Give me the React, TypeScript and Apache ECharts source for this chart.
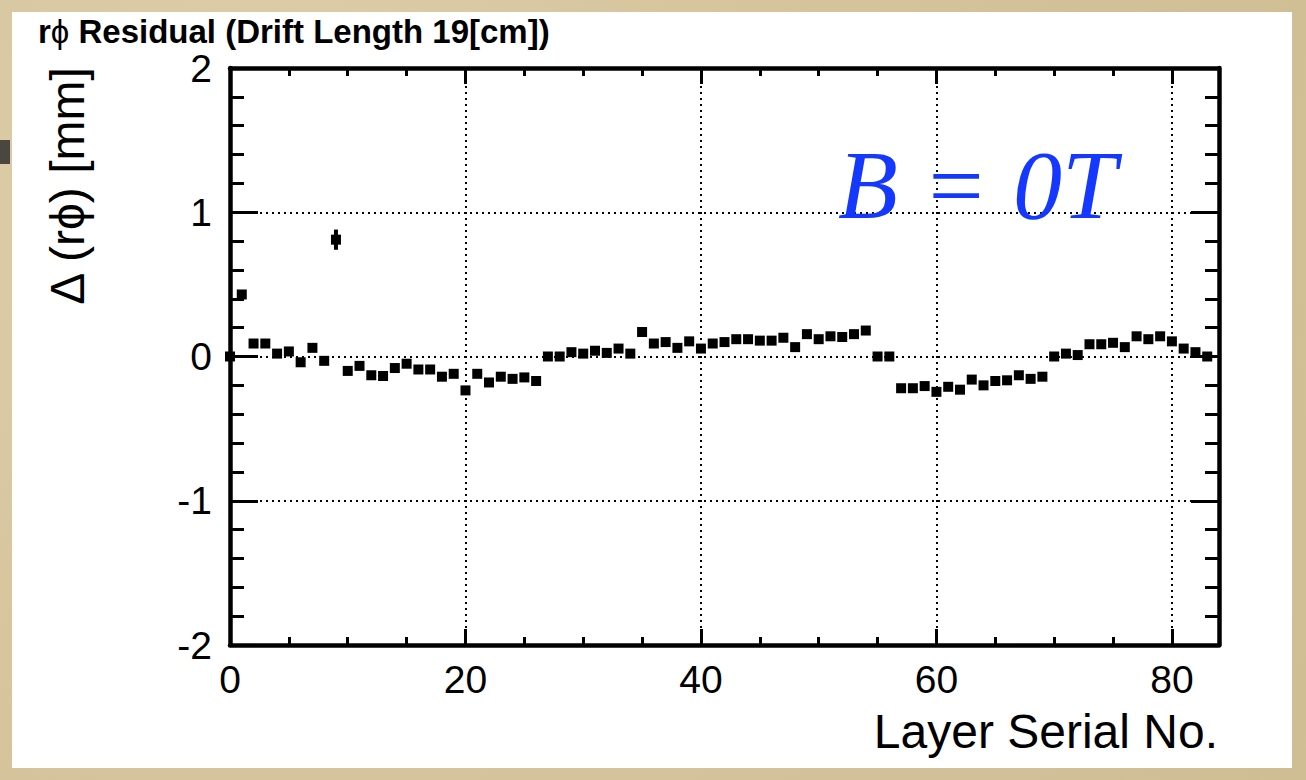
import React, { useEffect, useRef } from "react";
import * as echarts from "echarts";

// ---- data ----
const layers: number[] = [
  0, 1, 2, 3, 4, 5, 6, 7, 8, 9, 10, 11, 12, 13, 14, 15, 16, 17, 18, 19, 20,
  21, 22, 23, 24, 25, 26, 27, 28, 29, 30, 31, 32, 33, 34, 35, 36, 37, 38, 39, 40,
  41, 42, 43, 44, 45, 46, 47, 48, 49, 50, 51, 52, 53, 54, 55, 56, 57, 58, 59, 60,
  61, 62, 63, 64, 65, 66, 67, 68, 69, 70, 71, 72, 73, 74, 75, 76, 77, 78, 79, 80,
  81, 82, 83,
];
const residuals: number[] = [
  0.0, 0.43, 0.09, 0.09, 0.02, 0.035, -0.04, 0.06, -0.03, 0.81, -0.1,
  -0.065, -0.13, -0.135, -0.08, -0.05, -0.09, -0.09, -0.14, -0.12, -0.235,
  -0.12, -0.18, -0.14, -0.155, -0.145, -0.17, 0.0, 0.0, 0.03, 0.02,
  0.04, 0.025, 0.055, 0.02, 0.17, 0.09, 0.1, 0.06, 0.105, 0.055,
  0.09, 0.1, 0.12, 0.12, 0.11, 0.11, 0.13, 0.065, 0.155, 0.12,
  0.14, 0.135, 0.155, 0.18, 0.0, 0.0, -0.22, -0.22, -0.205, -0.245,
  -0.21, -0.23, -0.16, -0.2, -0.17, -0.165, -0.13, -0.155, -0.14, 0.0,
  0.02, 0.01, 0.085, 0.085, 0.095, 0.065, 0.14, 0.12, 0.14, 0.105,
  0.055, 0.03, 0.0,
];
// visible error bars: layer, value, half-width
const errLayers: number[] = [9];
const errValues: number[] = [0.81];
const errSizes: number[] = [0.07];

const xMajorTicks: number[] = [0, 20, 40, 60, 80];
const yMajorTicks: number[] = [-2, -1, 0, 1, 2];

const titleParts: string[] = ["r", "ϕ", " Residual (Drift Length 19[cm])"];
const yTitle = "Δ (rϕ) [mm]";
const xTitle = "Layer Serial No.";
const fieldText = "B = 0T";

const FONT = '"Liberation Sans", Arial, Helvetica, "DejaVu Sans", sans-serif';
const SERIF = '"Liberation Serif", "Times New Roman", Times, serif';

export default function App() {
  const ref = useRef<HTMLDivElement>(null);

  useEffect(() => {
    document.body.style.margin = "0";
    const chart = echarts.init(ref.current!, undefined, {
      renderer: "svg",
      width: 1306,
      height: 780,
    });

    const gridBox = { left: 230, top: 68, width: 989, height: 577 };
    const frameLine = { show: true, onZero: false, lineStyle: { color: "#000", width: 4.5 } };
    const noLine = { show: false, onZero: false };
    const dotted = { show: true, lineStyle: { color: "#000", width: 2, type: [2, 4] as any } };

    const xBase = { type: "value" as const, min: 0, max: 84 };
    const yBase = { type: "value" as const, min: -2, max: 2 };

    const option: any = {
      animation: false,
      backgroundColor: "transparent",
      textStyle: { fontFamily: FONT },
      grid: [
        { ...gridBox, containLabel: false },
        { ...gridBox, containLabel: false },
      ],
      xAxis: [
        {
          ...xBase,
          gridIndex: 0,
          position: "bottom",
          interval: 20,
          axisLine: frameLine,
          axisTick: { show: true, inside: true, length: 16, lineStyle: { color: "#000", width: 3 } },
          axisLabel: {
            show: true,
            fontSize: 39,
            fontFamily: FONT,
            color: "#000",
            margin: 15,
            formatter: (v: number) => (xMajorTicks.includes(v) ? String(v) : ""),
          },
          splitLine: dotted,
        },
        {
          ...xBase,
          gridIndex: 0,
          position: "top",
          interval: 20,
          axisLine: frameLine,
          axisTick: { show: true, inside: true, length: 16, lineStyle: { color: "#000", width: 3 } },
          axisLabel: { show: false },
          splitLine: { show: false },
        },
        {
          ...xBase,
          gridIndex: 1,
          position: "bottom",
          interval: 5,
          axisLine: noLine,
          axisTick: { show: true, inside: true, length: 8, lineStyle: { color: "#000", width: 3 } },
          axisLabel: { show: false },
          splitLine: { show: false },
        },
        {
          ...xBase,
          gridIndex: 1,
          position: "top",
          interval: 5,
          axisLine: noLine,
          axisTick: { show: true, inside: true, length: 8, lineStyle: { color: "#000", width: 3 } },
          axisLabel: { show: false },
          splitLine: { show: false },
        },
      ],
      yAxis: [
        {
          ...yBase,
          gridIndex: 0,
          position: "left",
          interval: 1,
          axisLine: frameLine,
          axisTick: { show: true, inside: true, length: 28, lineStyle: { color: "#000", width: 3 } },
          axisLabel: {
            show: true,
            fontSize: 39,
            fontFamily: FONT,
            color: "#000",
            margin: 18,
            formatter: (v: number) => (yMajorTicks.includes(v) ? String(v) : ""),
          },
          splitLine: dotted,
        },
        {
          ...yBase,
          gridIndex: 0,
          position: "right",
          interval: 1,
          axisLine: frameLine,
          axisTick: { show: true, inside: true, length: 28, lineStyle: { color: "#000", width: 3 } },
          axisLabel: { show: false },
          splitLine: { show: false },
        },
        {
          ...yBase,
          gridIndex: 1,
          position: "left",
          interval: 0.2,
          axisLine: noLine,
          axisTick: { show: true, inside: true, length: 14, lineStyle: { color: "#000", width: 3 } },
          axisLabel: { show: false },
          splitLine: { show: false },
        },
        {
          ...yBase,
          gridIndex: 1,
          position: "right",
          interval: 0.2,
          axisLine: noLine,
          axisTick: { show: true, inside: true, length: 14, lineStyle: { color: "#000", width: 3 } },
          axisLabel: { show: false },
          splitLine: { show: false },
        },
      ],
      series: [
        {
          type: "custom",
          name: "error",
          xAxisIndex: 0,
          yAxisIndex: 0,
          z: 3,
          data: errLayers.map((l, i) => [l, errValues[i] - errSizes[i], errValues[i] + errSizes[i]]),
          renderItem: (params: any, api: any) => {
            const p1 = api.coord([api.value(0), api.value(1)]);
            const p2 = api.coord([api.value(0), api.value(2)]);
            return {
              type: "line",
              shape: { x1: p1[0], y1: p1[1], x2: p2[0], y2: p2[1] },
              style: { stroke: "#000", lineWidth: 4 },
            };
          },
        },
        {
          type: "scatter",
          name: "residual",
          xAxisIndex: 0,
          yAxisIndex: 0,
          symbol: "rect",
          symbolSize: 10,
          clip: false,
          z: 4,
          itemStyle: { color: "#000", opacity: 1 },
          data: layers.map((l, i) => [l, residuals[i]]),
        },
      ],
      graphic: [
        {
          type: "text",
          x: 38,
          y: 31,
          style: {
            text: `{b|${titleParts[0]}}{p|${titleParts[1]}}{b|${titleParts[2]}}`,
            fill: "#000",
            align: "left",
            verticalAlign: "middle",
            rich: {
              b: { fontFamily: FONT, fontWeight: "bold", fontSize: 33, fill: "#000" },
              p: { fontFamily: FONT, fontWeight: "normal", fontSize: 33, fill: "#000" },
            },
          },
        },
        {
          type: "text",
          x: 67,
          y: 186,
          rotation: Math.PI / 2,
          style: {
            text: yTitle,
            fontFamily: FONT,
            fontSize: 48,
            fill: "#000",
            align: "center",
            verticalAlign: "middle",
          },
        },
        {
          type: "text",
          x: 1218,
          y: 731,
          style: {
            text: xTitle,
            fontFamily: FONT,
            fontSize: 48,
            fill: "#000",
            align: "right",
            verticalAlign: "middle",
          },
        },
        {
          type: "text",
          x: 838,
          y: 185,
          z: 10,
          style: {
            text: fieldText,
            fontFamily: SERIF,
            fontStyle: "italic",
            fontSize: 98,
            fill: "#1538ff",
            align: "left",
            verticalAlign: "middle",
          },
        },
      ],
    };
    chart.setOption(option);
    return () => chart.dispose();
  }, []);

  return (
    <div
      style={{
        position: "fixed",
        left: 0,
        top: 0,
        width: 1306,
        height: 780,
        overflow: "hidden",
        background:
          "radial-gradient(circle at 20% 30%, #e0d2ae 0%, #d6c59d 40%, #cfbd94 100%)",
      }}
    >
      <div style={{ position: "absolute", left: 0, top: 140, width: 10, height: 24, background: "#4a4740" }} />
      <div
        style={{ position: "absolute", left: 12, top: 12, width: 1280, height: 756, background: "#ffffff" }}
      />
      <div ref={ref} style={{ position: "absolute", left: 0, top: 0, width: 1306, height: 780 }} />
    </div>
  );
}
